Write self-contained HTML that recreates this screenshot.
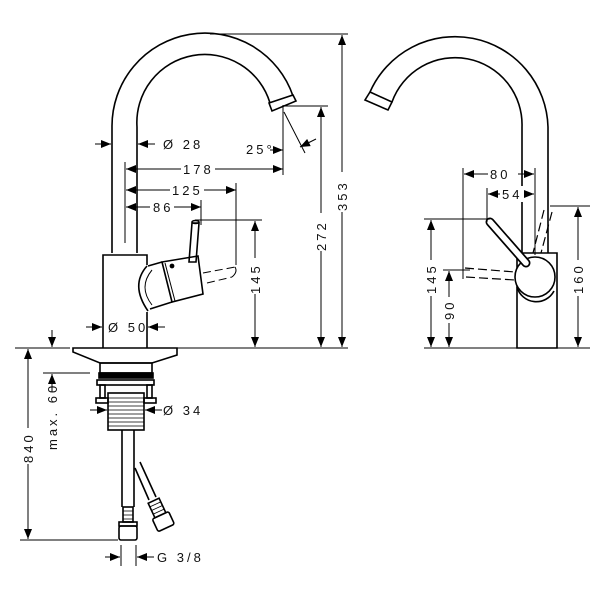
<!DOCTYPE html>
<html><head><meta charset="utf-8"><style>
html,body{margin:0;padding:0;background:#fff}
svg{display:block}
text{font-family:"Liberation Sans",sans-serif;font-size:13px;letter-spacing:3px;fill:#111}
</style></head><body>
<svg width="600" height="600" viewBox="0 0 600 600" xmlns="http://www.w3.org/2000/svg">
<defs>
<marker id="a" viewBox="0 0 10 8" refX="10" refY="4" markerWidth="10" markerHeight="8" markerUnits="userSpaceOnUse" orient="auto-start-reverse"><path d="M0,0L10,4L0,8Z" fill="#000"/></marker>
</defs>
<g fill="none" stroke="#000" stroke-width="1.6">
<path d="M112,253 V127 A93,93 0 0 1 293,96"/>
<path d="M137,253 V127 A68,68 0 0 1 270,103"/>
<path d="M269,103 L293,95 L296,101 L272,111 Z"/>
<path d="M103,348 V255 H147 V265"/>
<path d="M147,312 V348"/>
<path d="M148,266 L162,262 M150,309 L172,302"/>
<path d="M147,266 Q130,285 148,311" />
<path d="M152,270 Q138,287 152,305" stroke-width="1"/>
<path d="M162,262 L198,256 L203,294 L172,302 Z"/>
<path d="M165,263 L175,301" stroke-width="1"/>
<circle cx="172" cy="266" r="1.6" fill="#000"/>
<path d="M192,223 L189,262 L196,262 L199,223 Z"/>
<ellipse cx="195.5" cy="222" rx="3.5" ry="1.5"/>
<path d="M203,273 L235,267 M207,283 L232,277" stroke-width="1" stroke-dasharray="8,4"/>
<path d="M235,267 Q238,272 232,277" stroke-width="1"/>
<path d="M73,348 H177 V355 L152,363 H100 L73,352 Z"/>
<rect x="100" y="363" width="52" height="10"/>
<rect x="99" y="373" width="54" height="5" fill="#000"/>
<rect x="97" y="380" width="57" height="5"/>
<rect x="100" y="385" width="5" height="13"/>
<rect x="147" y="385" width="5" height="13"/>
<rect x="96" y="398" width="12" height="5"/>
<rect x="144" y="398" width="12" height="5"/>
<rect x="108" y="393" width="36" height="37"/>
<path d="M108,398 H144 M108,402 H144 M108,406 H144 M108,410 H144 M108,414 H144 M108,418 H144 M108,422 H144 M108,426 H144" stroke-width="0.8"/>
<path d="M122,430 V507 M134,430 V507"/>
<rect x="123" y="507" width="10" height="15"/>
<path d="M123,511 H133 M123,515 H133 M123,519 H133" stroke-width="0.8"/>
<rect x="119" y="522" width="18" height="4"/>
<rect x="119" y="526" width="18" height="14" rx="2"/>
<path d="M135,468 L149,500 M140,462 L156,497"/>
<g transform="translate(157,508) rotate(-25)">
<rect x="-6" y="-8" width="12" height="16"/>
<path d="M-6,-4 H6 M-6,0 H6 M-6,4 H6" stroke-width="0.8"/>
<rect x="-9" y="8" width="18" height="14" rx="2"/>
</g>
</g>
<g fill="none" stroke="#000" stroke-width="1">
<path d="M95,144 H111" marker-end="url(#a)"/>
<path d="M155,144 H138" marker-end="url(#a)"/>
<path d="M125,162 V243"/>
<path d="M126,169 H283" marker-start="url(#a)" marker-end="url(#a)"/>
<path d="M283,105 V175"/>
<path d="M126,190 H236" marker-start="url(#a)" marker-end="url(#a)"/>
<path d="M236,183 V265"/>
<path d="M126,207 H201" marker-start="url(#a)" marker-end="url(#a)"/>
<path d="M201,200 V225"/>
<path d="M195,220 H262"/>
<path d="M255,221 V347" marker-start="url(#a)" marker-end="url(#a)"/>
<path d="M285,106 H328"/>
<path d="M321,107 V347" marker-start="url(#a)" marker-end="url(#a)"/>
<path d="M210,34 H348"/>
<path d="M342,35 V347" marker-start="url(#a)" marker-end="url(#a)"/>
<path d="M147,348 H348"/>
<path d="M270,150 H283" marker-end="url(#a)"/>
<path d="M284,112 L305,153"/>
<path d="M316,139 L300,147" marker-end="url(#a)"/>
<path d="M15,348 H70"/>
<path d="M52,330 V347" marker-end="url(#a)"/>
<path d="M28,349 V539" marker-start="url(#a)" marker-end="url(#a)"/>
<path d="M20,540 H118"/>
<path d="M43,373 H90"/>
<path d="M52,374 V400" marker-start="url(#a)"/>
<path d="M90,410 H107" marker-end="url(#a)"/>
<path d="M162,410 H145" marker-end="url(#a)"/>
<path d="M86,327 H102" marker-end="url(#a)"/>
<path d="M165,327 H148" marker-end="url(#a)"/>
<path d="M121,545 V566 M136,545 V566"/>
<path d="M105,557 H120" marker-end="url(#a)"/>
<path d="M154,557 H137" marker-end="url(#a)"/>
</g>
<g>
<rect x="160" y="135" width="50" height="18" fill="#fff"/>
<text x="163" y="149">Ø 28</text>
<rect x="181" y="161" width="34" height="16" fill="#fff"/>
<text x="183" y="174">178</text>
<rect x="170" y="182" width="34" height="16" fill="#fff"/>
<text x="172" y="195">125</text>
<rect x="150" y="199" width="24" height="16" fill="#fff"/>
<text x="153" y="212">86</text>
<text x="246" y="154">25°</text>
<rect x="108" y="319" width="38" height="16" fill="#fff"/>
<text x="108" y="332">Ø 50</text>
<text x="163" y="415">Ø 34</text>
<text x="157" y="562">G 3/8</text>
<g fill="#fff"><rect x="246" y="258" width="18" height="36"/><rect x="312" y="213" width="18" height="38"/><rect x="333" y="172" width="18" height="40"/><rect x="19" y="428" width="18" height="36"/></g>
<text transform="translate(260,294) rotate(-90)">145</text>
<text transform="translate(326,251) rotate(-90)">272</text>
<text transform="translate(347,211) rotate(-90)">353</text>
<text transform="translate(33,463) rotate(-90)">840</text>
<rect x="44" y="392" width="16" height="60" fill="#fff"/>
<text transform="translate(57,450) rotate(-90)">max. 60</text>
</g>
<!-- RIGHT view -->
<g fill="none" stroke="#000" stroke-width="1.6">
<path d="M548,253 V127 A93,93 0 0 0 370,92"/>
<path d="M522,253 V127 A67,67 0 0 0 392,102"/>
<path d="M370,92 L392,102 L388,110 L365,100 Z"/>
<path d="M517,253 H557 V348 H517 Z"/>
<path d="M517,287 A20,20 0 0 0 554,291"/>
<circle cx="535" cy="277" r="20" fill="#fff"/>
<line x1="490" y1="222" x2="526" y2="263" stroke-width="9" stroke-linecap="round"/>
<line x1="490" y1="222" x2="526" y2="263" stroke="#fff" stroke-width="5.6" stroke-linecap="round"/>
<path d="M544,210 L533,253 M552,212 L541,253" stroke-width="1.2" stroke-dasharray="9,4"/>
<path d="M465,268 L515,272 M466,277 L515,280" stroke-width="1.2" stroke-dasharray="9,4"/>
</g>
<g fill="none" stroke="#000" stroke-width="1">
<path d="M463,168 V279"/>
<path d="M487,188 V222"/>
<path d="M535,168 V255"/>
<path d="M464,174 H534" marker-start="url(#a)" marker-end="url(#a)"/>
<path d="M488,194 H534" marker-start="url(#a)" marker-end="url(#a)"/>
<path d="M424,219 H490"/>
<path d="M431,220 V347" marker-start="url(#a)" marker-end="url(#a)"/>
<path d="M443,270 H470"/>
<path d="M449,271 V347" marker-start="url(#a)" marker-end="url(#a)"/>
<path d="M550,206 H590"/>
<path d="M578,207 V347" marker-start="url(#a)" marker-end="url(#a)"/>
<path d="M424,348 H590"/>
</g>
<g>
<rect x="488" y="166" width="30" height="16" fill="#fff"/>
<text x="490" y="179">80</text>
<rect x="500" y="186" width="24" height="16" fill="#fff"/>
<text x="502" y="199">54</text>
<g fill="#fff"><rect x="422" y="260" width="18" height="36"/><rect x="440" y="297" width="18" height="26"/><rect x="569" y="260" width="18" height="36"/></g>
<text transform="translate(436,294) rotate(-90)">145</text>
<text transform="translate(454,320) rotate(-90)">90</text>
<text transform="translate(583,294) rotate(-90)">160</text>
</g>
</svg>
</body></html>
